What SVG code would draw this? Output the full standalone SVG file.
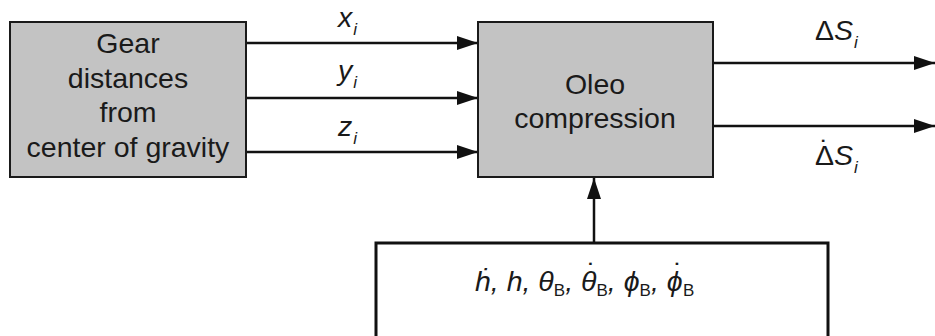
<svg xmlns="http://www.w3.org/2000/svg" width="935" height="336" viewBox="0 0 935 336">
<style>
.box{fill:#c3c3c3;stroke:#1a1a1a;stroke-width:2}
.wbox{fill:#ffffff;stroke:#111;stroke-width:3}
.t{font-family:"Liberation Sans",Arial,sans-serif;font-size:28.5px;fill:#1a1a1a;text-anchor:middle}
.m{font-family:"Liberation Sans",Arial,sans-serif;font-size:28.5px;fill:#1a1a1a;font-style:italic}
.s{font-size:17px}
.u{font-style:normal}
.c{stroke:#111;stroke-width:2.5;fill:none;marker-end:url(#ah)}
</style>
<defs>
<marker id="ah" markerUnits="userSpaceOnUse" markerWidth="22" markerHeight="14" refX="21" refY="7" orient="auto">
<path d="M0,0 L21,7 L0,14 Z" fill="#111"/>
</marker>
</defs>
<g id="connectors">
<line class="c" x1="246" y1="43" x2="478" y2="43"/>
<line class="c" x1="246" y1="98" x2="478" y2="98"/>
<line class="c" x1="246" y1="152" x2="478" y2="152"/>
<line class="c" x1="713" y1="63" x2="935" y2="63"/>
<line class="c" x1="713" y1="126" x2="935" y2="126"/>
<line class="c" x1="594" y1="242" x2="594" y2="178"/>
<text class="m" x="338" y="27">x<tspan class="s" dx="1" dy="8">i</tspan></text>
<text class="m" x="338" y="80">y<tspan class="s" dx="1" dy="8">i</tspan></text>
<text class="m" x="338" y="136">z<tspan class="s" dx="1" dy="8">i</tspan></text>
<text class="m" x="815" y="40"><tspan class="u">Δ</tspan>S<tspan class="s" dx="1" dy="8">i</tspan></text>
<text class="m" x="815" y="165"><tspan class="u">Δ</tspan><tspan class="u" dx="-14.25" dy="-5.5">˙</tspan><tspan dx="4.75" dy="5.5">S</tspan><tspan class="s" dx="1" dy="8">i</tspan></text>
</g>
<g id="gear">
<rect class="box" x="10" y="22" width="236" height="155"/>
<text class="t" x="128" y="53">Gear</text>
<text class="t" x="128" y="88">distances</text>
<text class="t" x="128" y="122">from</text>
<text class="t" x="128" y="157">center of gravity</text>
</g>
<g id="oleo">
<rect class="box" x="478" y="22" width="235" height="155"/>
<text class="t" x="595" y="94">Oleo</text>
<text class="t" x="595" y="128">compression</text>
</g>
<g id="states">
<rect class="wbox" x="376" y="243" width="452" height="100"/>
<text class="m" x="475" y="291">ḣ, h, θ<tspan class="s u" dy="5">B</tspan><tspan dy="-5">, θ</tspan><tspan class="u" dx="-9.5" dy="-8.5">˙</tspan><tspan class="s u" dy="13.5">B</tspan><tspan dy="-5">, ϕ</tspan><tspan class="s u" dy="5">B</tspan><tspan dy="-5">, ϕ</tspan><tspan class="u" dx="-9" dy="-8.5">˙</tspan><tspan class="s u" dy="13.5">B</tspan></text>
</g>
</svg>
